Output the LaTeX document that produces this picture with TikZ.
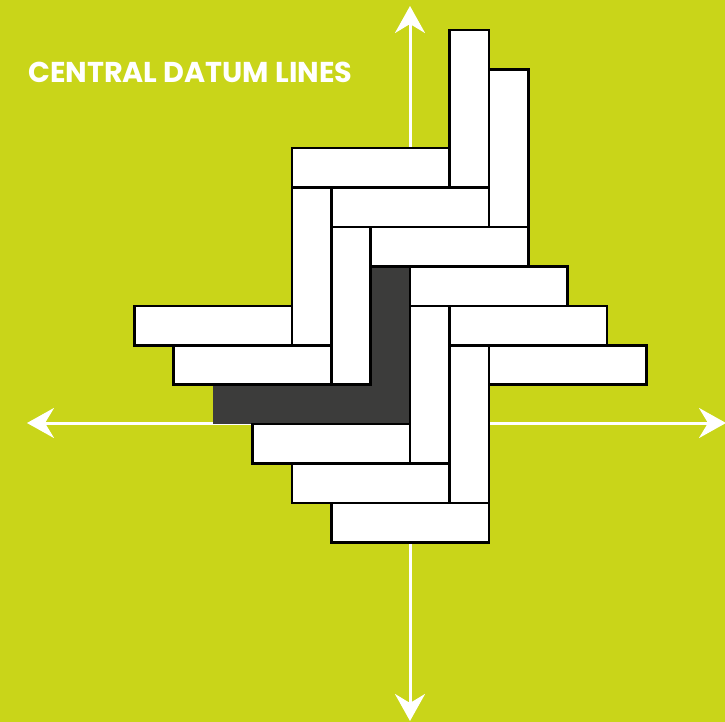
\documentclass[tikz,border=0pt]{standalone}
\usepackage{fontspec}
\setsansfont{Poppins}
\usetikzlibrary{arrows.meta}
\definecolor{bgcol}{RGB}{201,213,25}
\definecolor{darkcol}{RGB}{60,60,59}
\tikzset{
  brick/.style={fill=white,draw=black,line width=2.6pt,line join=miter},
  darkbrick/.style={fill=darkcol,draw=none},
  datum/.style={draw=white,line width=3pt,{Stealth[length=27pt,width=30pt,inset=9pt,fill=white]}-{Stealth[length=27pt,width=30pt,inset=9pt,fill=white]}}
}
\begin{document}
\begin{tikzpicture}[x=1pt,y=-1pt]
\fill[bgcol] (0,0) rectangle (725,722);
\useasboundingbox (0,0) rectangle (725,722);
% datum lines
\coordinate (vt) at (410,6);
\coordinate (vb) at (410,721);
\coordinate (hl) at (27,423);
\coordinate (hr) at (726,423);
\draw[datum] (vt) -- (vb);
\draw[datum] (hl) -- (hr);
% title
\node[anchor=south west,inner sep=0pt,text=white] (title) at (28,83)
  {\resizebox{324pt}{!}{\sffamily\bfseries CENTRAL DATUM LINES}};
\begin{scope}[shift={(410pt,-424pt)},x=39.4pt,y=39.4pt]
  \fill[darkbrick] (-1,0) rectangle (0,4);
  \fill[darkbrick] (-5,0) rectangle (0,1);
  % top
  \draw[brick] (1,6) rectangle (2,10);
  \draw[brick] (2,5) rectangle (3,9);
  \draw[brick] (-3,6) rectangle (1,7);
  \draw[brick] (-2,5) rectangle (2,6);
  \draw[brick] (-3,2) rectangle (-2,6);
  \draw[brick] (-2,1) rectangle (-1,5);
  \draw[brick] (-1,4) rectangle (3,5);
  % right
  \draw[brick] (0,3) rectangle (4,4);
  \draw[brick] (1,2) rectangle (5,3);
  \draw[brick] (2,1) rectangle (6,2);
  \draw[brick] (0,-1) rectangle (1,3);
  \draw[brick] (1,-2) rectangle (2,2);
  % left
  \draw[brick] (-7,2) rectangle (-3,3);
  \draw[brick] (-6,1) rectangle (-2,2);
  % bottom
  \draw[brick] (-4,-1) rectangle (0,0);
  \draw[brick] (-3,-2) rectangle (1,-1);
  \draw[brick] (-2,-3) rectangle (2,-2);
\end{scope}
\end{tikzpicture}
\end{document}
